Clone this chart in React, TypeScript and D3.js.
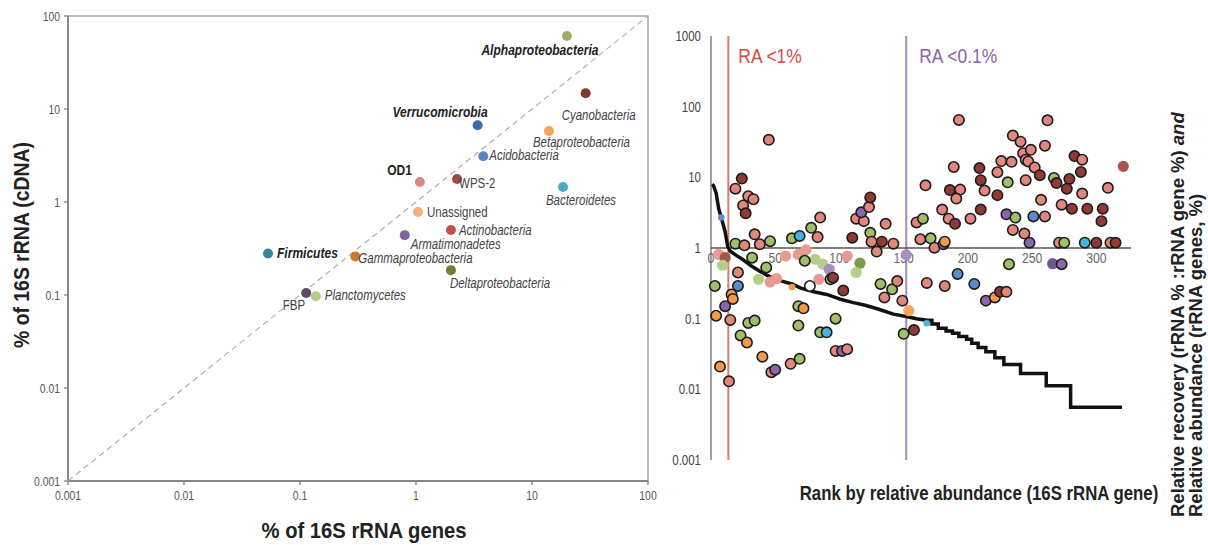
import React from 'react';
import * as d3 from 'd3';

// ---- left panel: phyla, % of 16S rRNA genes vs % of 16S rRNA (cDNA)
const phyla = ['Alphaproteobacteria', 'Cyanobacteria', 'Verrucomicrobia', 'Betaproteobacteria', 'Acidobacteria', 'OD1', 'WPS-2', 'Bacteroidetes', 'Unassigned', 'Actinobacteria', 'Armatimonadetes', 'Firmicutes', 'Gammaproteobacteria', 'Deltaproteobacteria', 'FBP', 'Planctomycetes'];
const genePct = [20, 29, 3.4, 14, 3.8, 1.08, 2.26, 18.5, 1.04, 2.0, 0.8, 0.053, 0.30, 2.0, 0.113, 0.137];
const cdnaPct = [61, 14.8, 6.7, 5.8, 3.1, 1.64, 1.77, 1.45, 0.78, 0.5, 0.44, 0.28, 0.26, 0.185, 0.105, 0.097];
const phylaColor = ['#9bb265', '#7b3b34', '#3a6ea5', '#f4a45a', '#5b86c4', '#d48c82', '#9c4a48', '#4bacc6', '#f6b07a', '#c0504d', '#8064a2', '#31859c', '#c77a2a', '#6f7f3a', '#5f4a6a', '#b3c98a'];
const boldPhyla = ['Alphaproteobacteria', 'Verrucomicrobia', 'OD1', 'Firmicutes'];
const uprightPhyla = ['OD1', 'WPS-2', 'Unassigned', 'FBP'];
const logTicks = [0.001, 0.01, 0.1, 1, 10, 100];
const logTickLabels = ['0.001', '0.01', '0.1', '1', '10', '100'];

// label placement (px offsets from the dot)
const labelPos: Record<string, [number, number, string]> = {
  Alphaproteobacteria: [-27, 19, 'middle'],
  Cyanobacteria: [13, 27, 'middle'],
  Verrucomicrobia: [10, -8, 'end'],
  Betaproteobacteria: [-16, 16, 'start'],
  Acidobacteria: [6, 4, 'start'],
  OD1: [-8, -7, 'end'],
  'WPS-2': [2, 9, 'start'],
  Bacteroidetes: [18, 18, 'middle'],
  Unassigned: [9, 5, 'start'],
  Actinobacteria: [8, 5, 'start'],
  Armatimonadetes: [6, 14, 'start'],
  Firmicutes: [9, 5, 'start'],
  Gammaproteobacteria: [3, 7, 'start'],
  Deltaproteobacteria: [-1, 18, 'start'],
  FBP: [-1, 17, 'end'],
  Planctomycetes: [9, 4, 'start'],
};

// ---- right panel: OTUs by rank
const otuRank = [45, 19, 24, 29, 33, 25, 27, 34, 38, 19, 26, 46, 63, 69, 78, 85, 83, 110, 113, 119, 117, 123, 124, 124, 125, 133, 129, 136, 142, 167, 160, 165, 163, 171, 174, 180, 181, 182, 185, 190, 193, 189, 186, 194, 191, 202, 209, 210, 213, 210, 223, 223, 226, 231, 234, 235, 241, 243, 245, 247, 249, 252, 256, 260, 262, 245, 230, 237, 251, 260, 257, 235, 244, 248, 267, 269, 279, 277, 273, 281, 283, 289, 288, 289, 293, 305, 304, 309, 271, 275, 291, 300, 311, 315,
  32, 73, 93, 95, 21, 43, 77, 3, 21, 16, 17, 11, 4, 15, 29, 34, 68, 72, 68, 85, 90, 23, 28, 40, 47, 50, 62, 69, 7, 14, 97, 103, 97, 102, 106, 132, 135, 141, 145, 149, 150, 158, 168, 182, 192, 205, 214, 221, 225, 230, 232, 273];
const otuRecovery = [34, 6.9, 9.6, 5.4, 4.9, 4.0, 3.1, 1.56, 1.13, 1.15, 1.09, 1.25, 1.37, 1.48, 1.93, 2.7, 1.43, 1.4, 2.6, 2.4, 3.2, 3.8, 5.2, 1.64, 1.23, 1.23, 0.89, 2.2, 1.15, 7.7, 2.3, 2.6, 1.33, 1.37, 1.01, 3.5, 1.13, 1.23, 2.6, 2.2, 65, 14, 6.6, 6.7, 5.0, 2.6, 13.5, 9.1, 6.5, 3.5, 5.6, 11.8, 17, 8.5, 16.6, 39, 32, 22, 17.8, 16.8, 24.5, 13.8, 10.7, 28, 64, 9.1, 3.0, 2.7, 2.8, 2.8, 4.8, 1.8, 1.6, 1.19, 9.8, 8.3, 9.5, 6.9, 4.1, 3.6, 20, 17.8, 11.9, 5.9, 3.6, 3.6, 2.4, 7.1, 1.19, 1.19, 1.19, 1.19, 1.19, 1.19,
  0.73, 0.66, 0.36, 0.38, 0.45, 0.53, 0.29, 0.29, 0.29, 0.22, 0.19, 0.15, 0.11, 0.096, 0.087, 0.094, 0.15, 0.14, 0.08, 0.064, 0.064, 0.058, 0.046, 0.029, 0.0175, 0.019, 0.023, 0.027, 0.021, 0.013, 0.10, 0.25, 0.035, 0.035, 0.037, 0.31, 0.20, 0.26, 0.34, 0.18, 0.061, 0.069, 0.32, 0.29, 0.43, 0.31, 0.18, 0.20, 0.24, 0.24, 0.59, 0.59];
const otuGroup = ['S', 'S', 'D', 'S', 'S', 'S', 'D', 'S', 'S', 'G', 'S', 'G', 'G', 'C', 'G', 'S', 'S', 'D', 'S', 'S', 'P', 'S', 'D', 'G', 'S', 'D', 'S', 'S', 'S', 'S', 'S', 'G', 'S', 'G', 'S', 'S', 'P', 'O', 'S', 'D', 'S', 'S', 'D', 'S', 'S', 'S', 'D', 'D', 'S', 'D', 'D', 'S', 'S', 'G', 'S', 'S', 'S', 'S', 'S', 'S', 'S', 'S', 'D', 'S', 'S', 'S', 'P', 'G', 'B', 'S', 'S', 'S', 'S', 'P', 'G', 'D', 'D', 'D', 'S', 'D', 'D', 'S', 'D', 'S', 'D', 'D', 'D', 'S', 'S', 'G', 'C', 'D', 'S', 'D',
  'G', 'G', 'G', 'D', 'S', 'G', 'W', 'G', 'B', 'O', 'O', 'P', 'O', 'S', 'G', 'G', 'G', 'O', 'G', 'G', 'C', 'G', 'O', 'O', 'S', 'P', 'S', 'G', 'O', 'S', 'G', 'D', 'S', 'P', 'S', 'G', 'S', 'G', 'S', 'S', 'G', 'D', 'S', 'S', 'B', 'B', 'P', 'O', 'D', 'S', 'G', 'P'];

// OTUs drawn without an outline
const fadedRank = [6, 11, 9, 58, 68, 74, 81, 87, 92, 106, 116, 113, 37, 46, 51, 84, 152, 154, 266, 321];
const fadedRecovery = [0.81, 0.73, 0.57, 0.77, 0.81, 0.94, 0.69, 0.59, 0.5, 0.77, 0.61, 0.45, 0.36, 0.33, 0.37, 0.36, 0.8, 0.13, 0.6, 14.3];
const fadedGroup = ['S', 'D', 'G', 'S', 'S', 'S', 'G', 'G', 'P', 'S', 'DG', 'G', 'G', 'S', 'S', 'S', 'P', 'O', 'PD', 'D'];

// small markers sitting on the abundance curve
const markRank = [8, 63, 168];
const markAbund = [2.7, 0.28, 0.086];
const markGroup = ['B', 'O', 'C'];

// rank-abundance curve
const headRank = [1, 2, 4, 6, 8, 11, 13, 15, 20, 25, 30, 38, 46, 55, 63, 70, 80, 90, 100, 110, 120, 130, 142, 152, 160, 168];
const headAbund = [8.0, 7.6, 6.0, 3.6, 2.7, 1.7, 1.05, 0.9, 0.78, 0.68, 0.58, 0.47, 0.39, 0.34, 0.31, 0.27, 0.24, 0.22, 0.19, 0.17, 0.155, 0.137, 0.116, 0.107, 0.1, 0.095];
const tailRank = [168, 172, 177, 183, 188, 193, 199, 203, 208, 214, 221, 228, 241, 261, 280, 320];
const tailAbund = [0.095, 0.084, 0.073, 0.067, 0.062, 0.056, 0.051, 0.045, 0.039, 0.034, 0.028, 0.0225, 0.0168, 0.0112, 0.0056, 0.0056];

const rankTicks = [0, 50, 100, 150, 200, 250, 300];
const recovTicks = [0.001, 0.01, 0.1, 1, 10, 100, 1000];
const recovTickLabels = ['0.001', '0.01', '0.1', '1', '10', '100', '1000'];
const cutoffs = [13.5, 152];
const cutoffLabels = ['RA <1%', 'RA <0.1%'];

const groupColor: Record<string, string> = {
  S: '#e3877c', D: '#8e3b35', G: '#9fc068', O: '#f59a4c', B: '#5b8ccc',
  C: '#45b6d9', P: '#8767a9', DG: '#6e8b3d', W: '#ffffff',
};
const fadedColor: Record<string, string> = {
  S: '#e69a90', D: '#a5574f', G: '#b4cf8c', O: '#f6a55c', P: '#a58ec2', PD: '#6e5a8a', DG: '#7e9a4c',
};

const FONT = '"Liberation Sans", Arial, sans-serif';

// condensed text: no narrow face is installed, so squeeze Liberation Sans horizontally
function NText({ x, y, sx = 0.84, rotate, children, ...rest }: any) {
  const t = `translate(${x},${y})${rotate ? ` rotate(${rotate})` : ''} scale(${sx},1)`;
  return <text transform={t} {...rest}>{children}</text>;
}

export default function App() {
  const xL = d3.scaleLog().domain([0.001, 100]).range([68, 648]);
  const yL = d3.scaleLog().domain([0.001, 100]).range([481, 16]);
  const xR = d3.scaleLinear().domain([0, 327]).range([711, 1131]);
  const yR = d3.scaleLog().domain([0.001, 1000]).range([460, 36]);

  const head = d3.line<number>()
    .x((_, i) => xR(headRank[i]))
    .y((d) => yR(d))(headAbund) || '';
  const tail = d3.line<number>()
    .x((_, i) => xR(tailRank[i]))
    .y((d) => yR(d))
    .curve(d3.curveStepAfter)(tailAbund) || '';

  return (
    <svg width={1208} height={545} style={{ position: 'absolute', left: 0, top: 0, background: '#fff' }} fontFamily={FONT}>
      {/* ---------- left panel ---------- */}
      <rect x={68} y={16} width={580} height={465} fill="none" stroke="#9a9a9a" strokeWidth={1.3} />
      <line x1={68} x2={68} y1={16} y2={481} stroke="#777" strokeWidth={1.5} />
      <line x1={68} x2={648} y1={481} y2={481} stroke="#777" strokeWidth={1.5} />
      <line x1={xL(0.001)} y1={yL(0.001)} x2={xL(100)} y2={yL(100)} stroke="#b0b0b0" strokeWidth={1.2} strokeDasharray="6,4" />
      {logTicks.map((t, i) => (
        <g key={'lt' + i}>
          <line x1={64} x2={68} y1={yL(t)} y2={yL(t)} stroke="#777" strokeWidth={1.2} />
          <NText x={60} y={yL(t)} dy="0.35em" textAnchor="end" fontSize={13} sx={0.8} fill="#555">{logTickLabels[i]}</NText>
          <line x1={xL(t)} x2={xL(t)} y1={481} y2={485} stroke="#777" strokeWidth={1.2} />
          <NText x={xL(t)} y={500} textAnchor="middle" fontSize={13} sx={0.8} fill="#555">{logTickLabels[i]}</NText>
        </g>
      ))}
      {phyla.map((p, i) => {
        const [dx, dy, anchor] = labelPos[p];
        const cx = xL(genePct[i]);
        const cy = yL(cdnaPct[i]);
        const bold = boldPhyla.includes(p);
        return (
          <g key={p}>
            <circle cx={cx} cy={cy} r={5} fill={phylaColor[i]} />
            <NText x={cx + dx} y={cy + dy} textAnchor={anchor} fontSize={14} sx={bold ? 0.86 : 0.82}
              fontWeight={bold ? 'bold' : 'normal'}
              fontStyle={uprightPhyla.includes(p) ? 'normal' : 'italic'}
              fill={bold ? '#222' : '#444'}>{p}</NText>
          </g>
        );
      })}
      <NText x={29} y={245} rotate={-90} sx={0.88} textAnchor="middle" fontSize={22} fontWeight="bold" fill="#222">% of 16S rRNA (cDNA)</NText>
      <NText x={364} y={538} sx={0.92} textAnchor="middle" fontSize={22} fontWeight="bold" fill="#222">% of 16S rRNA genes</NText>

      {/* ---------- right panel ---------- */}
      <line x1={711} x2={711} y1={36} y2={460} stroke="#8a8a8a" strokeWidth={1.6} />
      {recovTicks.map((t, i) => (
        <NText key={'rt' + i} x={701} y={yR(t)} dy="0.35em" textAnchor="end" fontSize={14} sx={0.82} fill="#444">{recovTickLabels[i]}</NText>
      ))}
      {cutoffs.map((c, i) => (
        <line key={'cut' + i} x1={xR(c)} x2={xR(c)} y1={36} y2={460} stroke={i === 0 ? '#e3776c' : '#a58bbd'} strokeWidth={2} />
      ))}
      {cutoffLabels.map((l, i) => (
        <NText key={'cl' + i} x={xR(cutoffs[i]) + (i === 0 ? 10 : 13)} y={63} sx={0.83} fontSize={21} fill={i === 0 ? '#e0473f' : '#8e62a8'}>{l}</NText>
      ))}
      <line x1={711} x2={1131} y1={yR(1)} y2={yR(1)} stroke="#555" strokeWidth={1.3} />
      {rankTicks.map((t) => (
        <NText key={'rx' + t} x={xR(t)} y={yR(1) + 15} textAnchor="middle" fontSize={14.5} sx={0.84} fill="#666">{t}</NText>
      ))}
      <path d={head} fill="none" stroke="#111" strokeWidth={3.5} strokeLinejoin="round" />
      <path d={tail} fill="none" stroke="#111" strokeWidth={3.5} />
      {fadedRank.map((r, i) => (
        <circle key={'f' + i} cx={xR(r)} cy={yR(fadedRecovery[i])} r={5.6} fill={fadedColor[fadedGroup[i]]} />
      ))}
      {otuRank.map((r, i) => (
        <circle key={'o' + i} cx={xR(r)} cy={yR(otuRecovery[i])} r={5.2} fill={groupColor[otuGroup[i]]} stroke="#1c1c1c" strokeWidth={1.6} />
      ))}
      {markRank.map((r, i) => (
        <circle key={'m' + i} cx={xR(r)} cy={yR(markAbund[i])} r={3.3} fill={groupColor[markGroup[i]]} />
      ))}
      <NText x={979} y={500} sx={0.84} textAnchor="middle" fontSize={20} fontWeight="bold" fill="#222">Rank by relative abundance (16S rRNA gene)</NText>
      <text transform="translate(1184,517) rotate(-90)" fontSize={18.5} fontWeight="bold" fill="#222">
        <tspan>Relative recovery (rRNA % :rRNA gene %) </tspan>
        <tspan fontStyle="italic">and</tspan>
      </text>
      <text transform="translate(1202,517) rotate(-90)" fontSize={18.5} fontWeight="bold" fill="#222">Relative abundance (rRNA genes, %)</text>
    </svg>
  );
}
